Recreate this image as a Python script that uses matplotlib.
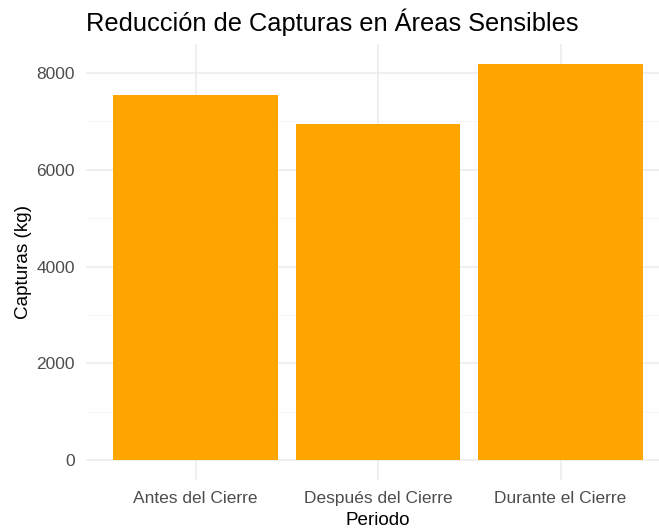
import matplotlib
matplotlib.use("Agg")
import matplotlib.pyplot as plt

categories = ["Antes del Cierre", "Después del Cierre", "Durante el Cierre"]
values = [7540, 6950, 8190]
yticks = [0, 2000, 4000, 6000, 8000]
title = "Reducción de Capturas en Áreas Sensibles"

plt.rcParams['font.family'] = ['Liberation Sans', 'DejaVu Sans']

W, H = 659, 531
fig = plt.figure(figsize=(W / 100, H / 100), dpi=100)
# panel in pixels: left 86, right 670 (cropped), top 44, bottom 480
left, right, top, bottom = 86, 670, 44, 480
ax = fig.add_axes([left / W, 1 - bottom / H, (right - left) / W, (bottom - top) / H])

x = list(range(1, len(categories) + 1))
ax.bar(x, values, width=0.9, color="#FFA500", zorder=2)

ymax = max(values)
ax.set_xlim(0.4, 3.6)
ax.set_ylim(-0.05 * ymax, 1.05 * ymax)
ax.set_xticks(x)
ax.set_xticklabels(categories)
ax.set_yticks(yticks)
ax.set_yticklabels([str(v) for v in yticks])
ax.set_yticks([1000, 3000, 5000, 7000], minor=True)

ax.grid(True, which="major", color="#EBEBEB", linewidth=1.1, zorder=0)
ax.grid(True, which="minor", axis="y", color="#F4F4F4", linewidth=0.6, zorder=0)
for s in ax.spines.values():
    s.set_visible(False)
ax.tick_params(which="both", length=0)
ax.tick_params(axis="x", labelsize=12.5, labelcolor="#4D4D4D", pad=8)
ax.tick_params(axis="y", labelsize=12.5, labelcolor="#4D4D4D", pad=8)

ax.set_xlabel("Periodo", fontsize=13.6, color="black", labelpad=4.5)
ax.set_ylabel("Capturas (kg)", fontsize=13.6, color="black", labelpad=3)

fig.text(left / W, 1 - 31 / H, title, fontsize=18.3, color="black", ha="left", va="baseline")

fig.savefig("out.png", dpi=100, facecolor="white")
